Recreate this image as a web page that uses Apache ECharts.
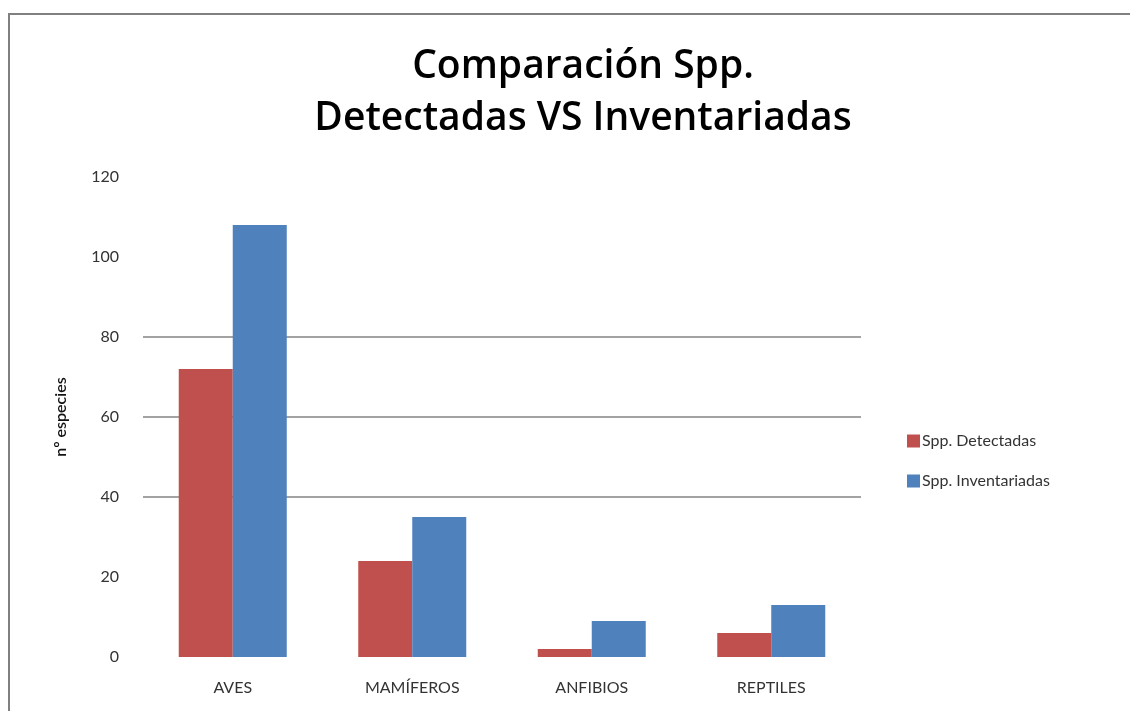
<!DOCTYPE html>
<html>
<head>
<meta charset="utf-8">
<script src="https://cdn.jsdelivr.net/npm/echarts@6/dist/echarts.min.js"></script>
<style>
  html, body { margin: 0; padding: 0; background: #fff; }
  #chart { width: 1130px; height: 711px; }
</style>
</head>
<body>
<div id="chart"></div>
<script>
const categories = ["AVES", "MAMÍFEROS", "ANFIBIOS", "REPTILES"];
const detectadas = [72, 24, 2, 6];
const inventariadas = [108, 35, 9, 13];
const seriesNames = ["Spp. Detectadas", "Spp. Inventariadas"];

// only the 40, 60, 80 lines show in the original
const gridColors = ["transparent", "transparent", "#858585", "#858585", "#858585", "transparent", "transparent"];

const chart = echarts.init(document.getElementById("chart"));

chart.setOption({
  animation: false,
  textStyle: { fontFamily: "Lato, 'Open Sans', sans-serif" },
  graphic: [
    {
      type: "rect",
      shape: { x: 9, y: 14, width: 1300, height: 900 },
      style: { fill: "none", stroke: "#808080", lineWidth: 2 },
      silent: true,
    },
  ],
  title: {
    text: "Comparación Spp.\nDetectadas VS Inventariadas",
    left: 578,
    top: 36,
    textAlign: "center",
    textStyle: {
      fontFamily: "'Open Sans', sans-serif",
      fontSize: 39,
      fontWeight: 600,
      color: "#000",
      lineHeight: 52,
    },
  },
  legend: {
    orient: "vertical",
    left: 902,
    top: 428,
    itemWidth: 13,
    itemHeight: 13,
    itemGap: 24,
    icon: "rect",
    data: seriesNames,
    textStyle: { fontSize: 16, color: "#333", padding: [0, 0, 0, -3] },
  },
  grid: {
    left: 143,
    right: 269,
    top: 177,
    bottom: 54,
  },
  xAxis: {
    type: "category",
    data: categories,
    axisLine: { show: false },
    axisTick: { show: false },
    axisLabel: { fontSize: 16, color: "#333", margin: 23 },
  },
  yAxis: {
    type: "value",
    min: 0,
    max: 120,
    interval: 20,
    name: "nº especies",
    nameLocation: "middle",
    nameGap: 74,
    nameTextStyle: { fontSize: 16, color: "#111", fontWeight: 600 },
    axisLine: { show: false },
    axisTick: { show: false },
    axisLabel: { fontSize: 16, color: "#333", margin: 24 },
    splitLine: { lineStyle: { color: gridColors, width: 1.5 } },
  },
  series: [
    {
      name: seriesNames[0],
      type: "bar",
      data: detectadas,
      barWidth: 54,
      barGap: "0%",
      itemStyle: { color: "#C0504D" },
    },
    {
      name: seriesNames[1],
      type: "bar",
      data: inventariadas,
      barWidth: 54,
      itemStyle: { color: "#4F81BD" },
    },
  ],
});
</script>
</body>
</html>
